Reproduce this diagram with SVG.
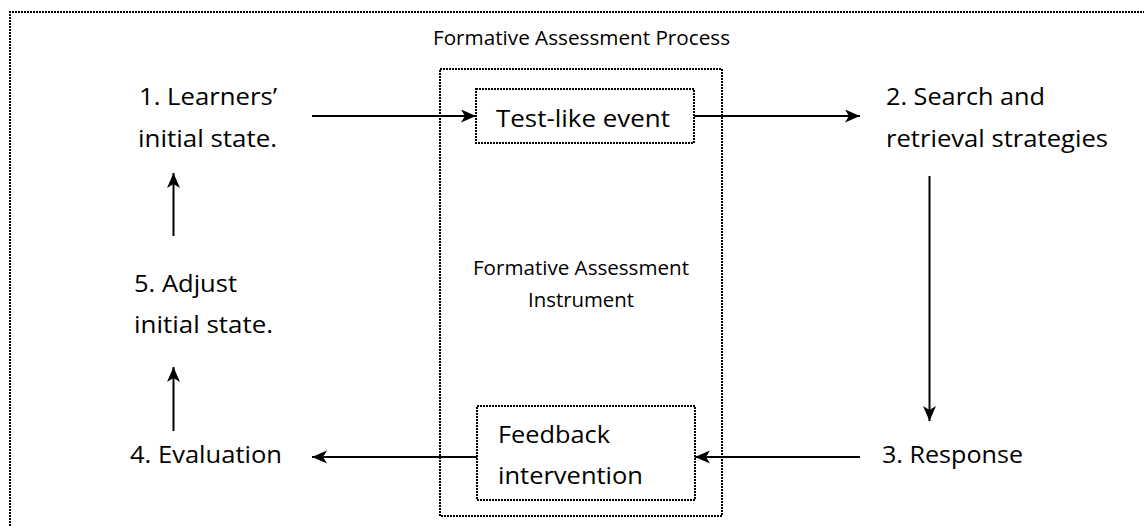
<svg xmlns="http://www.w3.org/2000/svg" width="1144" height="526" viewBox="0 0 1144 526">
<style>
.dot{fill:none;stroke:#000;stroke-width:2;stroke-dasharray:2 1}
.t{font-family:"Open Sans","Liberation Sans",sans-serif;font-size:24px;fill:#000}
.s{font-family:"Open Sans","Liberation Sans",sans-serif;font-size:20px;fill:#000}
.c{stroke:#000;stroke-width:2;fill:none;marker-end:url(#ah)}
</style>
<defs>
<marker id="ah" markerUnits="userSpaceOnUse" markerWidth="16" markerHeight="14" refX="15" refY="6.5" orient="auto">
<path d="M0,0 L15,6.5 L0,13 L4,6.5 z" fill="#000"/>
</marker>
</defs>
<rect width="1144" height="526" fill="#fff"/>
<g id="frame">
<path class="dot" d="M10,526 V12 H1144"/>
<text class="s" x="433" y="45" textLength="297" lengthAdjust="spacingAndGlyphs">Formative Assessment Process</text>
</g>
<g id="instrument">
<rect class="dot" x="440" y="69" width="282" height="447"/>
<text class="s" x="473" y="275" textLength="216" lengthAdjust="spacingAndGlyphs">Formative Assessment</text>
<text class="s" x="528" y="307" textLength="106" lengthAdjust="spacingAndGlyphs">Instrument</text>
</g>
<g id="test-like-event">
<rect class="dot" x="476" y="89" width="218" height="54"/>
<text class="t" x="496" y="127" textLength="174" lengthAdjust="spacingAndGlyphs">Test-like event</text>
</g>
<g id="feedback-intervention">
<rect class="dot" x="477" y="406" width="218" height="94"/>
<text class="t" x="498" y="443" textLength="112" lengthAdjust="spacingAndGlyphs">Feedback</text>
<text class="t" x="498" y="484" textLength="145" lengthAdjust="spacingAndGlyphs">intervention</text>
</g>
<g id="n1">
<text class="t" x="139" y="105" textLength="138" lengthAdjust="spacingAndGlyphs">1. Learners’</text>
<text class="t" x="138" y="147" textLength="139" lengthAdjust="spacingAndGlyphs">initial state.</text>
</g>
<g id="n2">
<text class="t" x="886" y="105" textLength="159" lengthAdjust="spacingAndGlyphs">2. Search and</text>
<text class="t" x="886" y="147" textLength="222" lengthAdjust="spacingAndGlyphs">retrieval strategies</text>
</g>
<g id="n3">
<text class="t" x="882" y="463" textLength="141" lengthAdjust="spacingAndGlyphs">3. Response</text>
</g>
<g id="n4">
<text class="t" x="130" y="463" textLength="152" lengthAdjust="spacingAndGlyphs">4. Evaluation</text>
</g>
<g id="n5">
<text class="t" x="134" y="292" textLength="103" lengthAdjust="spacingAndGlyphs">5. Adjust</text>
<text class="t" x="134" y="333" textLength="139" lengthAdjust="spacingAndGlyphs">initial state.</text>
</g>
<g id="connectors">
<path class="c" d="M312,116 H476"/>
<path class="c" d="M694,116 H860"/>
<path class="c" d="M929.5,176 V421"/>
<path class="c" d="M860,457 H695"/>
<path class="c" d="M477,457 H312"/>
<path class="c" d="M173.5,431 V367"/>
<path class="c" d="M173.5,236 V173"/>
</g>
</svg>
